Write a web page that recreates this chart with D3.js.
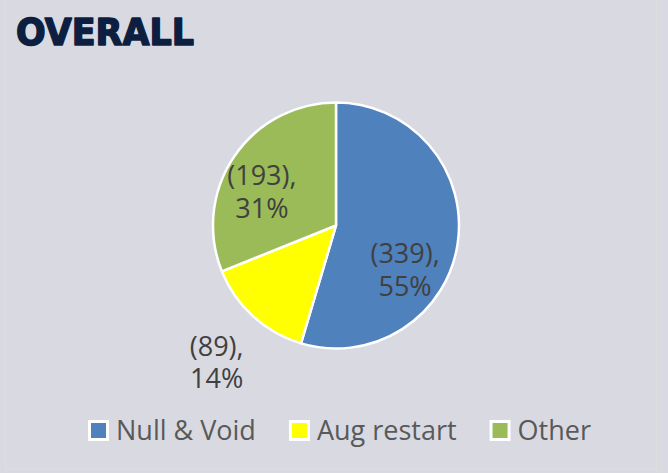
<!DOCTYPE html>
<html>
<head>
<meta charset="utf-8">
<script src="https://cdn.jsdelivr.net/npm/d3@7"></script>
<style>
  html, body { margin: 0; padding: 0; background: #d8d9e1; }
  svg { display: block; }
</style>
</head>
<body>
<div id="chart"></div>
<script>
// chart data
var categories = ['Null & Void', 'Aug restart', 'Other'];
var counts = [339, 89, 193];
var percentLabels = ['55%', '14%', '31%'];
var sliceColors = ['#4f81bd', '#ffff00', '#9bbb59'];

var W = 668, H = 473;
var cx = 336, cy = 225.5, R = 123;

var svg = d3.select('#chart').append('svg')
    .attr('width', W)
    .attr('height', H);

svg.append('rect')
    .attr('width', W).attr('height', H)
    .attr('fill', '#d8d9e1');

// faint frame
svg.append('rect')
    .attr('x', 5.5).attr('y', -2)
    .attr('width', 651).attr('height', 471)
    .attr('fill', 'none')
    .attr('stroke', '#dedfd9')
    .attr('stroke-width', 1);

// title (stroked a little to get the heavy block look)
svg.append('text')
    .attr('x', 16)
    .attr('y', 45)
    .attr('textLength', 178)
    .attr('lengthAdjust', 'spacingAndGlyphs')
    .style('font-family', 'DejaVu Sans')
    .style('font-weight', 'bold')
    .style('font-size', '38px')
    .style('fill', '#0c1f40')
    .style('stroke', '#0c1f40')
    .style('stroke-width', 1.6)
    .style('stroke-linejoin', 'round')
    .text('OVERALL');

var data = categories.map(function(c, i) {
  return {name: c, value: counts[i], pct: percentLabels[i], color: sliceColors[i]};
});

var pie = d3.pie()
    .sort(null)
    .value(function(d) { return d.value; });

var arc = d3.arc().innerRadius(0).outerRadius(R);
var labelArc = d3.arc().innerRadius(R * 0.6).outerRadius(R * 0.6);
var outerArc = d3.arc().innerRadius(R * 1.2).outerRadius(R * 1.2);

var g = svg.append('g')
    .attr('transform', 'translate(' + cx + ',' + cy + ')');

var arcs = pie(data);

g.selectAll('path.slice')
    .data(arcs)
  .enter().append('path')
    .attr('class', 'slice')
    .attr('d', arc)
    .attr('fill', function(d) { return d.data.color; })
    .attr('stroke', '#ffffff')
    .attr('stroke-width', 2.5)
    .attr('stroke-linejoin', 'round');

// label nudges to mimic Excel's best-fit placement
var nudges = [[-4, 30], [-20, 24], [-13, 4]];

var labels = g.selectAll('text.lbl')
    .data(arcs)
  .enter().append('text')
    .attr('class', 'lbl')
    .attr('text-anchor', 'middle')
    .style('font-family', 'Open Sans')
    .style('font-size', '27px')
    .style('fill', '#404040')
    .attr('transform', function(d, i) {
      var small = (d.endAngle - d.startAngle) < 1.0;
      var c = small ? outerArc.centroid(d) : labelArc.centroid(d);
      return 'translate(' + (c[0] + nudges[i][0]) + ',' + (c[1] + nudges[i][1]) + ')';
    });

labels.append('tspan')
    .attr('x', 0)
    .attr('dy', '-0.1em')
    .text(function(d) { return '(' + d.data.value + '),'; });
labels.append('tspan')
    .attr('x', 0)
    .attr('dy', '1.2em')
    .text(function(d) { return d.data.pct; });

// legend
var legend = svg.append('g').attr('class', 'legend');
var lx = 88, ly = 420;
data.forEach(function(d) {
  var item = legend.append('g').attr('transform', 'translate(' + lx + ',' + ly + ')');
  item.append('rect')
      .attr('x', 1.5).attr('y', 1.5)
      .attr('width', 18).attr('height', 18)
      .attr('fill', d.color)
      .attr('stroke', '#ffffff')
      .attr('stroke-width', 3);
  var t = item.append('text')
      .attr('x', 28)
      .attr('y', 20)
      .style('font-family', 'Open Sans')
      .style('font-size', '27px')
      .style('fill', '#595959')
      .text(d.name);
  lx += 28 + t.node().getComputedTextLength() + 33;
});
</script>
</body>
</html>
